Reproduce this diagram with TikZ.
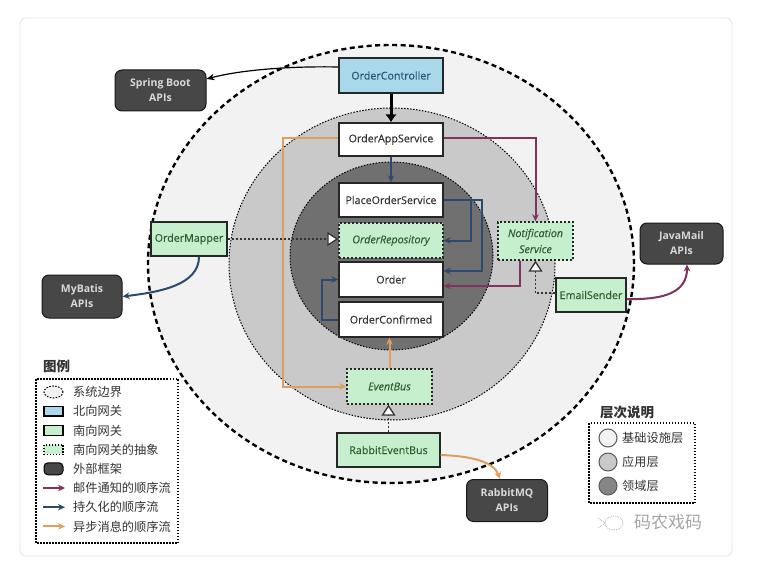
\documentclass[tikz,border=0pt]{standalone}
\usepackage{fontspec}
\setmainfont{Open Sans}
\newfontfamily\boxfont{Open Sans}[FakeBold=0.35]
\newfontfamily\cjk{Noto Sans CJK SC}
\usetikzlibrary{arrows.meta}
\definecolor{ringA}{HTML}{F2F2F2}
\definecolor{ringB}{HTML}{C9C9C9}
\definecolor{ringC}{HTML}{707070}
\definecolor{nblue}{HTML}{A9D8EA}
\definecolor{sgreen}{HTML}{C6EFCE}
\definecolor{gtext}{HTML}{2E5E30}
\definecolor{btext}{HTML}{2A5470}
\definecolor{dbox}{HTML}{474747}
\definecolor{mflow}{HTML}{7E345C}
\definecolor{pflow}{HTML}{2C4A6E}
\definecolor{aflow}{HTML}{DE9F5E}
\tikzset{
  box/.style={draw=black!85, line width=1.4pt, minimum width=104pt, minimum height=34pt, inner sep=0pt, font=\boxfont\fontsize{10.7}{12}\selectfont, text=black!80},
  whitebox/.style={box, fill=white},
  greenbox/.style={box, fill=sgreen, text=gtext},
  absbox/.style={box, fill=sgreen, text=gtext, dash pattern=on 2.2pt off 1.8pt, font=\boxfont\fontsize{10.7}{16}\selectfont\itshape},
  bluebox/.style={box, fill=nblue, text=btext},
  extbox/.style={draw=black!90, fill=dbox, line width=1pt, rounded corners=7pt, inner sep=0pt, text=black!15, font=\fontsize{10.5}{15}\selectfont\bfseries, align=center},
  flowline/.style={line width=2pt, -{Stealth[length=7pt,width=6.5pt]}},
  mailflow/.style={flowline, draw=mflow},
  persistflow/.style={flowline, draw=pflow},
  asyncflow/.style={flowline, draw=aflow},
  realize/.style={draw=black!80, line width=1.2pt, dash pattern=on 2pt off 2pt, -{Triangle[length=11pt,width=14pt,fill=white,line width=1.3pt]}},
  ringline/.style={line width=1pt, dash pattern=on 1.5pt off 1.5pt},
  legtext/.style={anchor=west, inner sep=0pt, font=\cjk\fontsize{12.2}{12}\selectfont, text=black!80},
  legtitle/.style={anchor=west, inner sep=0pt, font=\cjk\bfseries\fontsize{13.5}{14}\selectfont, text=black!80},
}
\begin{document}
\begin{tikzpicture}[x=1pt,y=-1pt]
\useasboundingbox (0,0) rectangle (777,567);
\fill[white] (0,0) rectangle (777,567);
\draw[draw=black!10, line width=0.8pt, rounded corners=6pt, fill=white] (20,18) rectangle (732,556);
% rings
\draw[fill=ringA, line width=2.4pt, dash pattern=on 5pt off 3.5pt] (391,264) ellipse [x radius=243pt, y radius=219pt];
\draw[ringline, fill=ringB] (392,264) ellipse [x radius=163pt, y radius=156pt];
\draw[ringline, fill=ringC] (391.5,256) ellipse [x radius=101.5pt, y radius=94pt];
% nodes
\node[bluebox, minimum height=35pt] (oc) at (391,75.5) {OrderController};
\node[whitebox, minimum height=33pt] (oas) at (391,139.5) {OrderAppService};
\node[whitebox] (pos) at (391,200) {PlaceOrderService};
\node[absbox, minimum height=35pt] (orepo) at (391,240.5) {OrderRepository};
\node[whitebox, minimum height=35pt] (ord) at (391,279.5) {Order};
\node[whitebox, minimum height=35pt] (ocf) at (391,319.5) {OrderConfirmed};
\node[absbox, minimum width=85pt, minimum height=35pt] (eb) at (389.5,386.5) {EventBus};
\node[greenbox, minimum width=103pt] (reb) at (388.5,450) {RabbitEventBus};
\node[greenbox, minimum width=76pt] (om) at (189,239) {OrderMapper};
\node[absbox, minimum width=75pt, minimum height=38pt, align=center] (ns) at (535.5,241) {Notification\\Service};
\node[greenbox, minimum width=70pt] (es) at (591,295) {EmailSender};
\node[extbox, minimum width=91pt, minimum height=41pt] (sb) at (160.5,90.5) {Spring Boot\\APIs};
\node[extbox, minimum width=80pt, minimum height=43pt] (mb) at (82,296.5) {MyBatis\\APIs};
\node[extbox, minimum width=83pt, minimum height=41pt] (jm) at (681.5,243.5) {JavaMail\\APIs};
\node[extbox, minimum width=81pt, minimum height=42pt] (rmq) at (507,500.5) {RabbitMQ\\APIs};
% connectors
\draw[line width=1.2pt, -{Stealth[length=8pt,width=6.5pt]}] (oc.west |- 0,67) .. controls (290,66) and (240,70) .. (sb.east |- 0,79);
\draw[line width=3pt, -{Latex[length=8pt,width=12pt]}] (oc.south) -- (oas.north);
\draw[persistflow, line width=1.5pt] (oas.south) -- (pos.north);
\draw[persistflow] (pos.east) -| ([xshift=27pt]orepo.east) -- (orepo.east);
\draw[persistflow] (pos.east) -| ([xshift=38pt,yshift=8.5pt]ord.east) -- ([yshift=8.5pt]ord.east);
\draw[persistflow] (ocf.west) -- ++(-16,0) |- (ord.west);
\draw[persistflow] ([xshift=10pt]om.south) .. controls (199,285) and (160,292) .. (mb.east);
\draw[mailflow] ([yshift=1pt]oas.east) -| (ns.north);
\draw[mailflow] ([xshift=-15.5pt]ns.south) |- ([yshift=-6.5pt]ord.east);
\draw[mailflow] ([yshift=-4pt]es.east) .. controls (665,300) and (687,292) .. ([xshift=5.5pt]jm.south);
\draw[asyncflow] ([yshift=1pt]oas.west) -| ([xshift=-63pt]eb.west) -- (eb.west);
\draw[asyncflow] (eb.north) -- (eb.north |- ocf.south);
\draw[asyncflow] ([yshift=-5pt]reb.east) .. controls (472,456) and (494,462) .. ([xshift=-7pt]rmq.north);
\draw[realize] (reb.north) -- (reb.north |- eb.south);
\draw[realize] ([yshift=2pt]es.west) -| (ns.south);
\draw[realize] (om.east) -- (om.east -| orepo.west);
% legend
\node[legtitle] (lg) at (43,366) {图例};
\draw[ringline, line width=1.2pt] (36,379) rectangle (178,543);
\draw[ringline, fill=ringA] (53.5,392) ellipse [x radius=9.5pt, y radius=6pt];
\node[legtext] (l1) at (73,392) {系统边界};
\draw[line width=1.2pt, fill=nblue] (44,406.5) rectangle (63,416);
\node[legtext] (l2) at (73,411.2) {北向网关};
\draw[line width=1.2pt, fill=sgreen] (44,425.7) rectangle (63,435.2);
\node[legtext] (l3) at (73,430.4) {南向网关};
\draw[line width=1.2pt, fill=sgreen, dash pattern=on 1.5pt off 1.5pt] (44,444.9) rectangle (63,454.4);
\node[legtext] (l4) at (73,449.6) {南向网关的抽象};
\draw[line width=1pt, fill=dbox, rounded corners=4pt] (44,462.8) rectangle (63,474.8);
\node[legtext] (l5) at (73,468.8) {外部框架};
\draw[mailflow] (43,488) -- (65,488);
\node[legtext] (l6) at (73,488) {邮件通知的顺序流};
\draw[persistflow] (43,507.2) -- (65,507.2);
\node[legtext] (l7) at (73,507.2) {持久化的顺序流};
\draw[asyncflow] (43,526.4) -- (65,526.4);
\node[legtext] (l8) at (73,526.4) {异步消息的顺序流};
% layer legend
\node[legtitle] (lt) at (600,412.5) {层次说明};
\draw[ringline, line width=1.2pt] (589,423) rectangle (695,503);
\draw[line width=1pt, draw=black!65, fill=ringA] (608,438) circle [radius=9pt];
\node[legtext] (k1) at (622,438) {基础设施层};
\draw[line width=1pt, draw=black!65, fill=ringB] (608,462) circle [radius=9pt];
\node[legtext] (k2) at (622,462) {应用层};
\draw[line width=1pt, draw=black!65, fill=ringC!85] (608,486) circle [radius=9pt];
\node[legtext] (k3) at (622,486) {领域层};
% watermark
\draw[black!30, line width=0.8pt, densely dotted] (614,523) ellipse [x radius=9pt, y radius=7pt];
\draw[black!30, line width=0.8pt, densely dotted] (605,523) -- (598,518) (605,523) -- (598,528);
\node[anchor=west, inner sep=0pt, font=\cjk\fontsize{17}{18}\selectfont, text=black!35] (wm) at (634,522) {码农戏码};
\end{tikzpicture}
\end{document}
